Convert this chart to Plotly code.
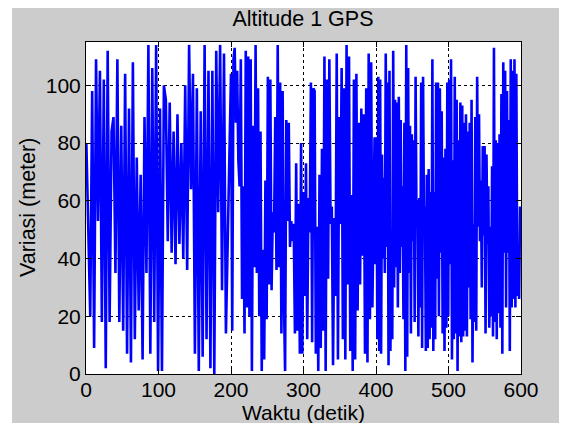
import numpy as np
import plotly.graph_objects as go

# Altitude variation (meter) in three stretches of time
seg1_values = [80, 54, 20, 98, 9, 109, 53, 105, 18, 102, 2, 112, 18, 84, 89, 35, 109, 18, 86, 15,
               104, 7, 92, 4, 108, 12, 75, 22, 69, 5, 89, 35, 114, 7, 106, 18, 114, 1, 92, 1,
               100, 95, 46, 94, 42, 84, 38, 90, 45, 80, 40, 100, 36, 114, 64, 104, 7, 99, 1, 91,
               6, 114, 12, 105, 2, 105, 0, 112, 56, 114, 29, 111, 14]
seg2_values = [104, 15, 109, 113, 87, 105, 74, 65, 109, 26, 65, 14, 112, 23, 110, 20, 109, 1, 86, 37,
               114, 35, 99, 20, 84, 1, 43, 5, 67, 19, 103, 31, 102, 29, 56, 49, 89, 36, 114, 37,
               101, 14, 98, 27, 1, 88, 53, 87, 44, 53, 46, 52, 14, 73, 15, 59, 7, 80, 7, 63,
               27, 73, 12, 61, 49, 101, 11, 99, 98, 7, 51, 1, 69, 9, 78, 15, 110, 1, 102, 33,
               109, 52, 58, 3, 54, 27, 111, 5, 89, 52, 106, 12, 99, 5, 114, 31, 110, 8, 62, 1,
               102, 5, 104, 22, 87, 31, 92, 41, 90, 7, 99, 4, 111, 19, 108, 23]
seg3_values = [82, 38, 82, 12, 103, 8, 102, 7, 76, 40, 68, 35, 111, 44, 101, 3, 105, 8, 46, 12,
               112, 30, 95, 37, 94, 23, 96, 35, 88, 44, 65, 19, 87, 1, 114, 6, 106, 35, 86, 14,
               83, 46, 81, 18, 103, 51, 60, 13, 61, 23, 101, 9, 103, 51, 58, 8, 69, 9, 71, 12,
               63, 16, 109, 8, 63, 12, 101, 33, 101, 20, 99, 42, 91, 14, 75, 8, 78, 16, 101, 20,
               102, 38, 109, 5, 74, 12, 103, 14, 95, 1, 81, 13, 94, 11, 93, 13, 87, 15, 90, 13,
               84, 30, 87, 19, 95, 4, 52, 18, 89, 15, 103, 51, 90, 46, 67, 30, 79, 48, 79, 14,
               76, 45, 65, 16, 51, 20, 72, 13, 113, 18, 81, 12, 80, 21, 83, 16, 97, 7, 108, 42,
               105, 23, 98, 42, 88, 8, 109, 23, 105, 26, 109, 23, 104, 27, 35, 26, 58, 46]
# time span (detik) covered by each stretch
seg_spans = [(0.5, 193), (200, 395), (398, 600)]

x_ticks = [0, 100, 200, 300, 400, 500, 600]
y_ticks = [0, 20, 40, 60, 80, 100]

segments = [seg1_values, seg2_values, seg3_values]
t = np.concatenate([np.linspace(a, b, len(v)) for (a, b), v in zip(seg_spans, segments)])
y = np.concatenate([np.array(v, dtype=float) for v in segments])

font = "Liberation Sans, Arial, sans-serif"
# page has an 8px body margin, so the figure is drawn 8px smaller and shifted
OFF = 8
W, H = 567 - OFF, 423 - OFF
ML, MT = 86 - OFF, 42 - OFF
MR, MB = 567 - 521, 423 - 374
PW, PH = W - ML - MR, H - MT - MB

fig = go.Figure()
fig.add_trace(go.Scatter(x=t, y=y, mode="lines",
                         line=dict(color="#0000ff", width=2.6), showlegend=False))

axis_common = dict(
    showline=True, linecolor="black", linewidth=1, mirror="ticks",
    ticks="inside", ticklen=5, tickcolor="black",
    showgrid=True, gridcolor="black", gridwidth=1, griddash="dot",
    zeroline=False, automargin=False,
    tickfont=dict(family=font, size=21, color="black"),
)

fig.update_layout(
    width=W, height=H,
    margin=dict(l=ML, r=MR, t=MT, b=MB),
    paper_bgcolor="#cccccc", plot_bgcolor="white",
    title=dict(text="Altitude 1 GPS", x=(303 - OFF) / W, xanchor="center",
               y=1 - (18 - OFF) / H, yanchor="middle", automargin=False,
               font=dict(family=font, size=21.5, color="black")),
    xaxis=dict(range=[0, 600], tickvals=x_ticks, ticklabelstandoff=-3, **axis_common),
    yaxis=dict(range=[0, 115], tickvals=y_ticks, **axis_common),
    annotations=[
        dict(text="Waktu (detik)", xref="paper", yref="paper", x=0.5, y=-(413 - 374) / PH,
             xanchor="center", yanchor="middle", showarrow=False,
             font=dict(family=font, size=21, color="black")),
        dict(text="Variasi (meter)", xref="paper", yref="paper", x=(28 - 86) / PW, y=0.5,
             xanchor="center", yanchor="middle", textangle=-90, showarrow=False,
             font=dict(family=font, size=21.5, color="black")),
    ],
    shapes=[
        dict(type="rect", xref="paper", yref="paper", x0=-ML / PW - 0.05, x1=(12 - 86) / PW,
             y0=-MB / PH - 0.05, y1=1 + MT / PH + 0.05,
             fillcolor="white", line=dict(width=0), layer="above"),
    ],
)

fig.write_html("out.html")
